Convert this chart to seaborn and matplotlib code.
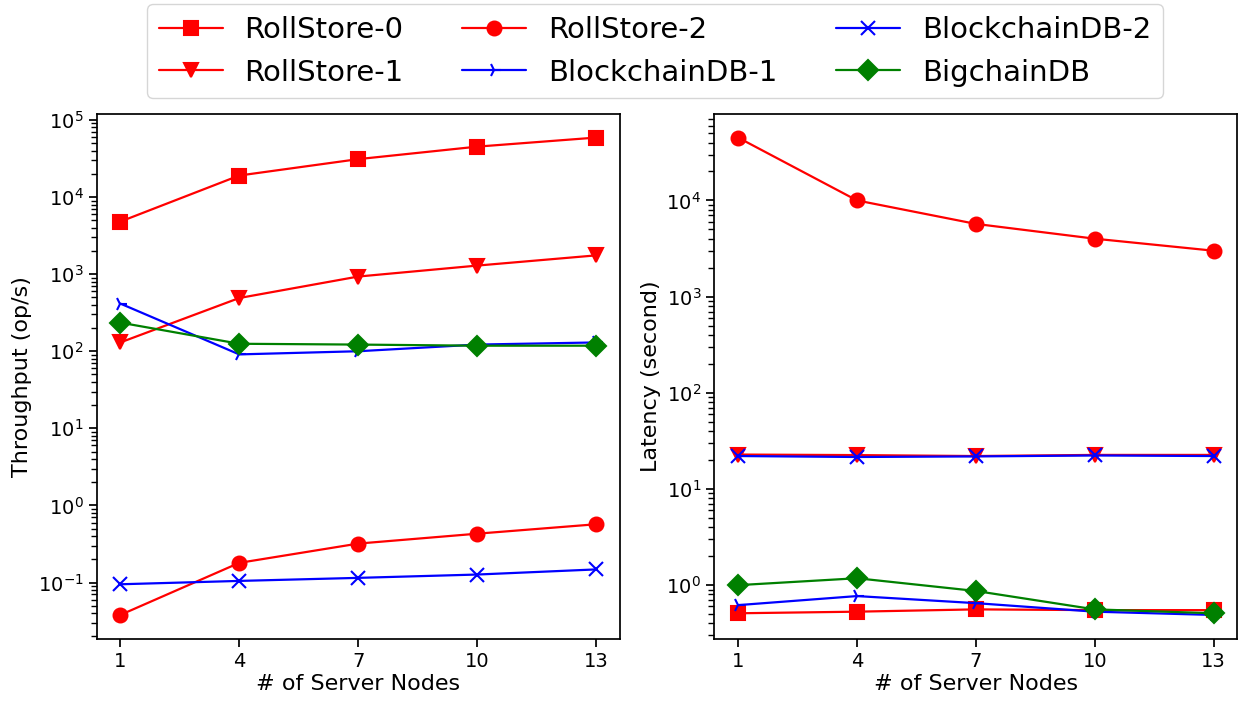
import numpy as np
import pandas as pd
import seaborn as sns
import matplotlib.pyplot as plt

## values (log scale, so rough)
nodes = [1, 4, 7, 10, 13]
systems = ["RollStore-0", "RollStore-1", "RollStore-2",
           "BlockchainDB-1", "BlockchainDB-2", "BigchainDB"]

thr_rs0 = [4800, 19000, 31000, 45000, 59000]
thr_rs1 = [130, 490, 930, 1290, 1750]
thr_rs2 = [0.038, 0.18, 0.32, 0.43, 0.57]
thr_bc1 = [415, 91, 100, 122, 130]
thr_bc2 = [0.095, 0.105, 0.115, 0.127, 0.148]
thr_big = [235, 125, 122, 118, 118]

lat_rs0 = [0.51, 0.53, 0.56, 0.55, 0.55]
lat_rs1 = [22.8, 22.5, 22.0, 22.6, 22.6]
lat_rs2 = [45000, 10000, 5700, 4000, 3000]
lat_bc1 = [0.62, 0.77, 0.65, 0.53, 0.49]
lat_bc2 = [22.0, 21.5, 21.8, 22.3, 22.0]
lat_big = [1.0, 1.18, 0.87, 0.56, 0.51]

colors = {"RollStore-0": "red", "RollStore-1": "red", "RollStore-2": "red",
          "BlockchainDB-1": "blue", "BlockchainDB-2": "blue", "BigchainDB": "green"}
markers = {"RollStore-0": "s", "RollStore-1": "v", "RollStore-2": "o",
           "BlockchainDB-1": "4", "BlockchainDB-2": "x", "BigchainDB": "D"}

def to_long(series):
    rows = []
    for name, vals in zip(systems, series):
        for n, v in zip(nodes, vals):
            rows.append({"nodes": n, "value": v, "system": name})
    return pd.DataFrame(rows)

df_thr = to_long([thr_rs0, thr_rs1, thr_rs2, thr_bc1, thr_bc2, thr_big])
df_lat = to_long([lat_rs0, lat_rs1, lat_rs2, lat_bc1, lat_bc2, lat_big])

## ticks style but with plain black text/spines like the original
sns.set_theme(style="ticks", rc={"text.color": "black", "axes.labelcolor": "black",
                                 "xtick.color": "black", "ytick.color": "black",
                                 "axes.edgecolor": "black"})
plt.rcParams["font.family"] = ["DejaVu Sans"]

fig = plt.figure(figsize=(12.38, 7.02), dpi=100)
ax1 = fig.add_axes([0.078, 0.09, 0.4225, 0.748])
ax2 = fig.add_axes([0.577, 0.09, 0.4225, 0.748])

for ax, data, ylab in [(ax1, df_thr, "Throughput (op/s)"),
                       (ax2, df_lat, "Latency (second)")]:
    ## one call per system, seaborn won't mix filled and line-art markers in one style map
    for name in systems:
        sub = data[data["system"] == name]
        sns.lineplot(data=sub, x="nodes", y="value", color=colors[name],
                     marker=markers[name], markersize=10, markeredgewidth=1.5,
                     markeredgecolor=colors[name], linewidth=1.6,
                     label=name, ax=ax)
    ax.set_yscale("log")
    ax.set_xticks(nodes)
    ax.set_xlabel("# of Server Nodes", fontsize=16, labelpad=2)
    ax.set_ylabel(ylab, fontsize=16, labelpad=4)
    ax.tick_params(axis="both", labelsize=14)

handles, labels = ax1.get_legend_handles_labels()
ax1.get_legend().remove()
ax2.get_legend().remove()
fig.legend(handles, labels, loc="upper center", ncol=3, fontsize=21,
           bbox_to_anchor=(0.529, 1.0), borderaxespad=0.15, handlelength=2.2,
           columnspacing=2.0, handletextpad=0.75, borderpad=0.4, labelspacing=0.5)

fig.savefig("out.png")
